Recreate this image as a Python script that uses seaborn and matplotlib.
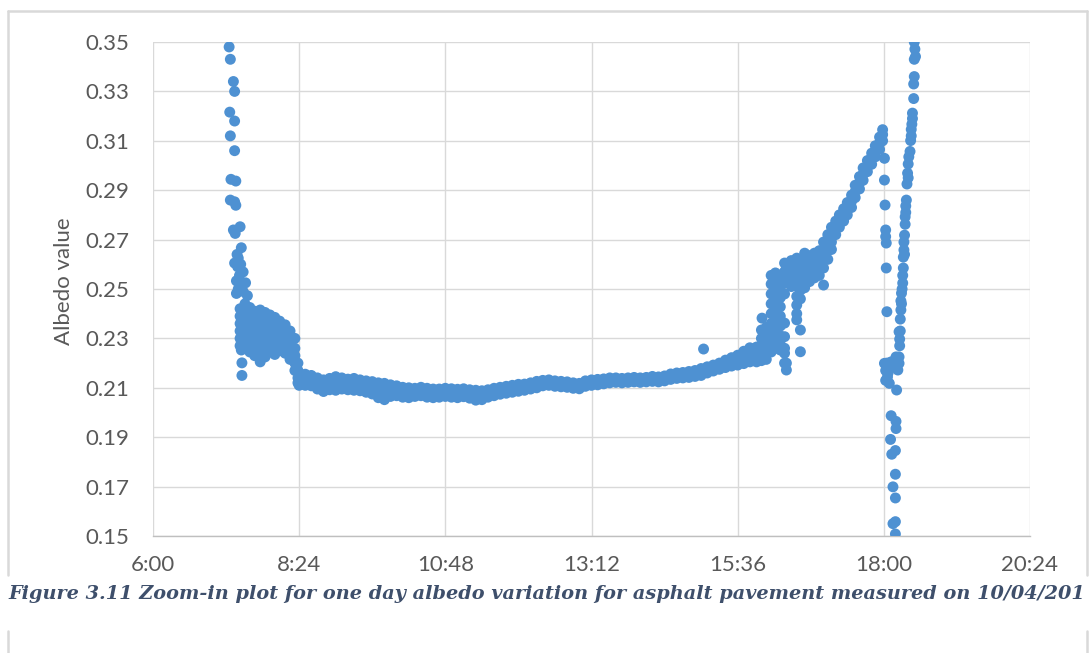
import numpy as np
import pandas as pd
import matplotlib
matplotlib.use("Agg")
import matplotlib.pyplot as plt
from matplotlib.lines import Line2D
import seaborn as sns

# ---------------- data: time of day (hours) and albedo ----------------
dawn_t = [7.25, 7.27, 7.32, 7.34, 7.26, 7.34, 7.27, 7.34, 7.28, 7.36,
          7.27, 7.34, 7.36, 7.32, 7.43, 7.35, 7.45, 7.38, 7.34, 7.39,
          7.48, 7.37, 7.52, 7.37, 7.55, 7.40, 7.44, 7.42, 7.46, 7.40,
          7.48, 7.45, 7.46, 7.46, 7.45]
dawn_a = [0.348, 0.343, 0.334, 0.330, 0.3216, 0.318, 0.312, 0.306, 0.2944, 0.2937,
          0.286, 0.2853, 0.2839, 0.2739, 0.2752, 0.2725, 0.2667, 0.264, 0.2605, 0.259,
          0.2569, 0.2533, 0.2525, 0.2482, 0.2473, 0.2625, 0.2600, 0.2555, 0.2515, 0.2500,
          0.2490, 0.2253, 0.2201, 0.2150, 0.2280]

morning_t = [7.43, 7.51, 7.59, 7.67, 7.76, 7.84, 7.92, 8.00, 8.08, 8.17, 8.25, 8.33, 8.38]
morning_a = [
    [0.2420, 0.2390, 0.2360, 0.2330, 0.2300, 0.2270],
    [0.2440, 0.2410, 0.2380, 0.2350, 0.2320, 0.2290, 0.2260],
    [0.2425, 0.2395, 0.2365, 0.2335, 0.2305, 0.2275, 0.2245],
    [0.2410, 0.2380, 0.2350, 0.2320, 0.2290, 0.2260, 0.2230],
    [0.2415, 0.2385, 0.2355, 0.2325, 0.2295, 0.2265, 0.2235, 0.2205],
    [0.2405, 0.2375, 0.2345, 0.2315, 0.2285, 0.2255, 0.2225],
    [0.2395, 0.2365, 0.2335, 0.2305, 0.2275, 0.2245],
    [0.2385, 0.2355, 0.2325, 0.2295, 0.2265, 0.2235],
    [0.2370, 0.2340, 0.2310, 0.2280, 0.2250],
    [0.2355, 0.2325, 0.2295, 0.2265, 0.2240],
    [0.2330, 0.2300, 0.2270, 0.2240, 0.2215],
    [0.2300, 0.2260, 0.2230, 0.2200, 0.2170],
    [0.2200, 0.2170, 0.2140, 0.2120],
]

band_t = [8.4, 8.5, 8.6, 8.7, 8.8, 8.9, 9.0, 9.1, 9.2, 9.3,
          9.4, 9.5, 9.6, 9.7, 9.8, 9.9, 10.0, 10.1, 10.2, 10.3,
          10.4, 10.5, 10.6, 10.7, 10.8, 10.9, 11.0, 11.1, 11.2, 11.3,
          11.4, 11.5, 11.6, 11.7, 11.8, 11.9, 12.0, 12.1, 12.2, 12.3,
          12.4, 12.5, 12.6, 12.7, 12.8, 12.9, 13.0, 13.1, 13.2, 13.3,
          13.4, 13.5, 13.6, 13.7, 13.8, 13.9, 14.0, 14.1, 14.2, 14.3,
          14.4, 14.5, 14.6, 14.7, 14.8, 14.9, 15.0, 15.1, 15.2, 15.3,
          15.4, 15.5, 15.6, 15.7, 15.8]
band_top = [0.2160, 0.2155, 0.2150, 0.2140, 0.2132, 0.2138, 0.2145, 0.2140, 0.2135, 0.2138,
            0.2132, 0.2128, 0.2125, 0.2120, 0.2118, 0.2112, 0.2108, 0.2102, 0.2100, 0.2098,
            0.2102, 0.2098, 0.2095, 0.2095, 0.2098, 0.2096, 0.2094, 0.2096, 0.2092, 0.2090,
            0.2088, 0.2092, 0.2098, 0.2102, 0.2106, 0.2110, 0.2114, 0.2115, 0.2120, 0.2126,
            0.2130, 0.2132, 0.2128, 0.2126, 0.2124, 0.2120, 0.2118, 0.2128, 0.2132, 0.2134,
            0.2136, 0.2140, 0.2140, 0.2138, 0.2140, 0.2142, 0.2140, 0.2142, 0.2146, 0.2144,
            0.2148, 0.2156, 0.2160, 0.2162, 0.2166, 0.2170, 0.2178, 0.2185, 0.2192, 0.2200,
            0.2212, 0.2222, 0.2232, 0.2248, 0.2262]
band_mid = [0.2136, 0.2130, 0.2131, 0.2116, 0.2110, 0.2113, 0.2119, 0.2116, 0.2112, 0.2116,
            0.2108, 0.2106, 0.2098, 0.2092, 0.2084, 0.2090, 0.2088, 0.2080, 0.2082, 0.2079,
            0.2086, 0.2078, 0.2079, 0.2077, 0.2083, 0.2078, 0.2079, 0.2080, 0.2074, 0.2072,
            0.2069, 0.2078, 0.2082, 0.2089, 0.2092, 0.2095, 0.2101, 0.2102, 0.2109, 0.2112,
            0.2120, 0.2121, 0.2117, 0.2115, 0.2112, 0.2110, 0.2106, 0.2118, 0.2120, 0.2124,
            0.2125, 0.2130, 0.2131, 0.2128, 0.2132, 0.2132, 0.2131, 0.2134, 0.2135, 0.2135,
            0.2137, 0.2145, 0.2148, 0.2152, 0.2153, 0.2158, 0.2163, 0.2172, 0.2180, 0.2187,
            0.2197, 0.2205, 0.2212, 0.2223, 0.2233]
band_bot = [0.2110, 0.2110, 0.2108, 0.2095, 0.2085, 0.2092, 0.2090, 0.2095, 0.2092, 0.2090,
            0.2088, 0.2082, 0.2075, 0.2060, 0.2052, 0.2065, 0.2068, 0.2062, 0.2060, 0.2065,
            0.2068, 0.2062, 0.2060, 0.2062, 0.2065, 0.2062, 0.2060, 0.2064, 0.2058, 0.2050,
            0.2052, 0.2062, 0.2068, 0.2074, 0.2078, 0.2082, 0.2086, 0.2090, 0.2095, 0.2100,
            0.2108, 0.2110, 0.2106, 0.2104, 0.2102, 0.2098, 0.2096, 0.2106, 0.2110, 0.2112,
            0.2116, 0.2120, 0.2122, 0.2120, 0.2122, 0.2124, 0.2122, 0.2124, 0.2126, 0.2124,
            0.2128, 0.2134, 0.2138, 0.2140, 0.2142, 0.2146, 0.2150, 0.2160, 0.2168, 0.2175,
            0.2182, 0.2188, 0.2192, 0.2198, 0.2205]

late_t = [15.91, 15.99, 16.07, 16.15, 16.22, 16.30, 16.37, 16.40, 16.48, 16.57,
          16.63, 16.70, 16.78, 16.86, 16.94, 17.01, 17.08, 17.14, 17.21, 17.27,
          17.34, 17.40, 17.47, 17.53, 17.60, 17.66, 17.73, 17.80, 17.86, 17.93, 17.98]
late_a = [
    [0.2265, 0.2235, 0.2205],
    [0.2334, 0.2300, 0.2265, 0.2235, 0.2210],
    [0.2345, 0.2310, 0.2280, 0.2245, 0.2215],
    [0.2555, 0.2520, 0.2480, 0.2440, 0.2400, 0.2360, 0.2320, 0.2280, 0.2245],
    [0.2565, 0.2530, 0.2490, 0.2450, 0.2410, 0.2370, 0.2330, 0.2290, 0.2260],
    [0.2550, 0.2505, 0.2465, 0.2428, 0.2390, 0.2350, 0.2310, 0.2275, 0.2253],
    [0.2605, 0.2570, 0.2525, 0.2480, 0.2362, 0.2307, 0.2260, 0.2240, 0.2200],
    [0.2585, 0.2540, 0.2200, 0.2172],
    [0.2615, 0.2580, 0.2545, 0.2510],
    [0.2625, 0.2590, 0.2550, 0.2510, 0.2470, 0.2435, 0.2400, 0.2375],
    [0.2615, 0.2575, 0.2535, 0.2495, 0.2460, 0.2334, 0.2246],
    [0.2645, 0.2610, 0.2575, 0.2540, 0.2505],
    [0.2635, 0.2600, 0.2565, 0.2530],
    [0.2645, 0.2610, 0.2575, 0.2545],
    [0.2655, 0.2620, 0.2585, 0.2555],
    [0.2690, 0.2655, 0.2620, 0.2585, 0.2516],
    [0.2720, 0.2690, 0.2655, 0.2620],
    [0.2750, 0.2720, 0.2690, 0.2660],
    [0.2775, 0.2750, 0.2720],
    [0.2800, 0.2775, 0.2750],
    [0.2825, 0.2800, 0.2775],
    [0.2850, 0.2825, 0.2800],
    [0.2880, 0.2855, 0.2830],
    [0.2920, 0.2895, 0.2870],
    [0.2955, 0.2930, 0.2905],
    [0.2990, 0.2965, 0.2940],
    [0.3020, 0.2995, 0.2975],
    [0.3050, 0.3030, 0.3005],
    [0.3080, 0.3060, 0.3035],
    [0.3115, 0.3090, 0.3065],
    [0.3145, 0.3125, 0.3100],
]

outlier_t = [15.04, 16.00]
outlier_a = [0.2257, 0.2382]

dusk1_t = [18.01, 18.01, 18.02, 18.03, 18.03, 18.04, 18.04, 18.05,
           18.01, 18.09, 18.06, 18.09, 18.20, 18.25, 18.23, 18.21,
           18.03, 18.05, 18.07, 18.12, 18.15, 18.18, 18.03,
           18.12, 18.20, 18.20, 18.11, 18.19, 18.13, 18.19, 18.15, 18.19, 18.15, 18.19, 18.19]
dusk1_a = [0.3029, 0.2941, 0.2840, 0.2739, 0.2712, 0.2686, 0.2585, 0.2408,
           0.2199, 0.2185, 0.2144, 0.2118, 0.2225, 0.2199, 0.2172, 0.2091,
           0.2170, 0.2200, 0.2160, 0.2205, 0.2190, 0.2210, 0.2130,
           0.1987, 0.1964, 0.1935, 0.1891, 0.1846, 0.1831, 0.1750, 0.1699, 0.1654, 0.1550, 0.1558, 0.1508]

dusk2_t = [18.25, 18.26, 18.25, 18.27, 18.28, 18.28, 18.29, 18.31, 18.31, 18.32,
           18.32, 18.33, 18.33, 18.34, 18.35, 18.35, 18.36, 18.37, 18.38, 18.39,
           18.40, 18.41, 18.43, 18.44, 18.45, 18.46, 18.47, 18.47, 18.49, 18.50,
           18.52, 18.51, 18.50,
           18.30, 18.34, 18.36, 18.40, 18.45, 18.50, 18.49, 18.27, 18.29, 18.26]
dusk2_a = [0.2225, 0.2297, 0.2327, 0.2378, 0.2415, 0.2452, 0.2483, 0.2524, 0.2555, 0.2585,
           0.2629, 0.2658, 0.2690, 0.2718, 0.2762, 0.2792, 0.2836, 0.2860, 0.2925, 0.2969,
           0.3006, 0.3035, 0.3057, 0.3101, 0.3146, 0.3167, 0.3190, 0.3212, 0.3271, 0.3360,
           0.3441, 0.3471, 0.3500,
           0.2500, 0.2640, 0.2810, 0.2950, 0.3120, 0.3430, 0.3330, 0.2330, 0.2440, 0.2270]

x_ticks = [6.0, 8.4, 10.8, 13.2, 15.6, 18.0, 20.4]
x_tick_labels = ["6:00", "8:24", "10:48", "13:12", "15:36", "18:00", "20:24"]
y_ticks = [0.15, 0.17, 0.19, 0.21, 0.23, 0.25, 0.27, 0.29, 0.31, 0.33, 0.35]
y_tick_labels = ["0.15", "0.17", "0.19", "0.21", "0.23", "0.25", "0.27", "0.29", "0.31", "0.33", "0.35"]
y_label = "Albedo value"
caption = "Figure 3.11 Zoom-in plot for one day albedo variation for asphalt pavement measured on 10/04/201"

# ---------------- assemble ----------------
times, vals = [], []
times += dawn_t; vals += dawn_a
for t, col in zip(morning_t, morning_a):
    times += [t] * len(col); vals += col
for t, a, b, c in zip(band_t, band_top, band_mid, band_bot):
    times += [t, t, t]; vals += [a, b, c]
for t, col in zip(late_t, late_a):
    times += [t] * len(col); vals += col
times += outlier_t; vals += outlier_a
times += dusk1_t; vals += dusk1_a
times += dusk2_t; vals += dusk2_a
df = pd.DataFrame({"time": times, "albedo": vals})

# ---------------- plot ----------------
sns.set_theme(style="white")
plt.rcParams["font.family"] = ["Lato", "DejaVu Sans"]

W, H = 1090, 653
fig = plt.figure(figsize=(W / 100, H / 100), dpi=100)
fig.patch.set_facecolor("white")
ax = fig.add_axes([153 / W, 1 - 536 / H, (1030 - 153) / W, (536 - 42) / H])

sns.scatterplot(data=df, x="time", y="albedo", ax=ax, color="#4E91D2",
                s=62, edgecolor="none", linewidth=0, zorder=3, legend=False)

ax.set_xlim(6.0, 20.4)
ax.set_ylim(0.15, 0.35)
ax.set_xticks(x_ticks)
ax.set_xticklabels(x_tick_labels)
ax.set_yticks(y_ticks)
ax.set_yticklabels(y_tick_labels)
ax.grid(True, color="#D9D9D9", linewidth=1.0)
ax.set_axisbelow(True)
for side in ["top", "right", "left"]:
    ax.spines[side].set_visible(False)
ax.spines["bottom"].set_color("#BFBFBF")
ax.spines["bottom"].set_linewidth(1.0)
ax.tick_params(axis="both", length=0, labelsize=16, labelcolor="#595959")
ax.tick_params(axis="y", pad=17)
ax.tick_params(axis="x", pad=14)
ax.set_xlabel("")
ax.set_ylabel(y_label, fontsize=16, color="#595959")
ax.yaxis.set_label_coords(-0.090, 0.515)

# chart-area frame
fc = "#D9D9D9"
fig.add_artist(Line2D([8 / W, 8 / W], [1 - 575 / H, 1 - 11 / H], transform=fig.transFigure, color=fc, lw=1.8))
fig.add_artist(Line2D([8 / W, 1087 / W], [1 - 11 / H, 1 - 11 / H], transform=fig.transFigure, color=fc, lw=1.8))
fig.add_artist(Line2D([1087 / W, 1087 / W], [1 - 575 / H, 1 - 11 / H], transform=fig.transFigure, color=fc, lw=1.8))
# next figure frame (below caption)
fig.add_artist(Line2D([8 / W, 8 / W], [0, 1 - 631 / H], transform=fig.transFigure, color=fc, lw=1.8))
fig.add_artist(Line2D([1087 / W, 1087 / W], [0, 1 - 631 / H], transform=fig.transFigure, color=fc, lw=1.8))

fig.text(8 / W, 1 - 599 / H, caption, fontsize=13.9, fontweight="bold", fontstyle="italic",
         family="DejaVu Serif", color="#3E4F6B", ha="left", va="baseline")

fig.savefig("out.png", dpi=100, facecolor="white")
